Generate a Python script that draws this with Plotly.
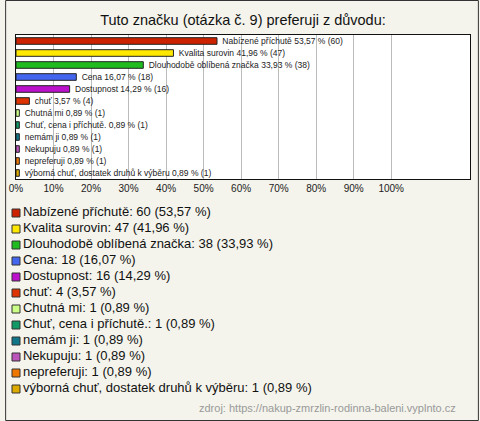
import plotly.graph_objects as go

# ---- data ----
categories = [
    "Nabízené příchutě", "Kvalita surovin", "Dlouhodobě oblíbená značka", "Cena",
    "Dostupnost", "chuť", "Chutná mi", "Chuť, cena i příchutě.", "nemám ji",
    "Nekupuju", "nepreferuji", "výborná chuť, dostatek druhů k výběru",
]
counts = [60, 47, 38, 18, 16, 4, 1, 1, 1, 1, 1, 1]
percents = [53.57, 41.96, 33.93, 16.07, 14.29, 3.57, 0.89, 0.89, 0.89, 0.89, 0.89, 0.89]
colors = ["#cc2200", "#ffe800", "#1fbb1f", "#4466ee", "#bb11cc", "#dd3300",
          "#ccff88", "#119966", "#117788", "#bb55bb", "#ee7700", "#ddaa00"]
tick_vals = [0, 10, 20, 30, 40, 50, 60, 70, 80, 90, 100]
tick_text = [f"{v}%" for v in tick_vals]
title_text = "Tuto značku (otázka č. 9) preferuji z důvodu:"
source_text = "zdroj: https://nakup-zmrzlin-rodinna-baleni.vyplnto.cz"


def cz(v):
    return f"{v:.2f}".replace(".", ",")


bar_labels = [f"{c} {cz(p)} % ({n})" for c, p, n in zip(categories, percents, counts)]
legend_labels = [f"{c}: {n} ({cz(p)} %)" for c, p, n in zip(categories, percents, counts)]
positions = list(range(len(categories)))

W, H = 480, 421
ML, MR, MT, MB = 11, 9, 35, 10
PW, PH = W - ML - MR, H - MT - MB


def py(pix):  # pixel y from top -> paper fraction
    return (H - MB - pix) / PH


def px(pix):
    return (pix - ML) / PW


FONT = "Liberation Sans, Arial, sans-serif"

fig = go.Figure()
fig.add_trace(go.Bar(
    y=positions, x=percents, orientation="h", width=0.55,
    marker=dict(color=colors, line=dict(color="#222222", width=1)),
    text=[" " + t for t in bar_labels], textposition="outside",
    textfont=dict(family=FONT, size=8.5, color="#222222"),
    constraintext="none", cliponaxis=False,
    xaxis="x", yaxis="y", showlegend=False, hoverinfo="skip",
))
# legend swatches (x2 axis is in pixel units from the plot-area's left edge)
fig.add_trace(go.Scatter(
    x=[0] * len(categories), y=positions, mode="markers",
    marker=dict(symbol="square", size=8, color=colors, line=dict(color="#333333", width=1)),
    xaxis="x2", yaxis="y2", showlegend=False, hoverinfo="skip", cliponaxis=False,
))
fig.add_trace(go.Scatter(
    x=[7] * len(categories), y=positions, mode="text",
    text=legend_labels, textposition="middle right",
    textfont=dict(family=FONT, size=13, color="#111111"),
    xaxis="x2", yaxis="y2", showlegend=False, hoverinfo="skip", cliponaxis=False,
))

fig.update_layout(
    width=W, height=H,
    margin=dict(l=ML, r=MR, t=MT, b=MB),
    paper_bgcolor="#f4f4ec", plot_bgcolor="rgba(0,0,0,0)",
    title=dict(text=title_text, x=0.5, xref="paper", y=1 - 20 / H, yanchor="middle",
               font=dict(family=FONT, size=14.5, color="#111111")),
    xaxis=dict(domain=[0, 1], range=[0, 121], tickvals=tick_vals, ticktext=tick_text,
               showgrid=True, gridcolor="#bbbbbb", gridwidth=1, zeroline=False,
               showline=True, mirror=True, linecolor="#111111", linewidth=1,
               ticks="", tickfont=dict(family=FONT, size=10, color="#222222"),
               anchor="y"),
    yaxis=dict(domain=[py(179), 1], range=[11.5, -0.5], showticklabels=False,
               showgrid=False, zeroline=False, showline=True, mirror=True,
               linecolor="#111111", linewidth=1, ticks="", anchor="x"),
    xaxis2=dict(domain=[0, 1], range=[0, PW], visible=False, anchor="y2"),
    yaxis2=dict(domain=[py(397), py(205)], range=[11.5, -0.5], visible=False, anchor="x2"),
    shapes=[
        dict(type="rect", xref="paper", yref="paper", x0=px(0.5), x1=px(W - 0.5),
             y0=py(H - 0.5), y1=py(0.5),
             fillcolor="rgba(0,0,0,0)", line=dict(color="#333333", width=1), layer="below"),
        dict(type="rect", xref="x domain", yref="y domain", x0=0, x1=1, y0=0, y1=1,
             fillcolor="#ffffff", line=dict(width=0), layer="below"),
    ],
    annotations=[dict(text=source_text, xref="paper", yref="paper", x=px(459), y=py(408),
                      xanchor="right", yanchor="middle", showarrow=False,
                      font=dict(family=FONT, size=11, color="#999999"))],
)

fig.write_html("out.html", config={"displayModeBar": False},
               post_script="document.body.style.margin='0';document.body.style.overflow='hidden';")
